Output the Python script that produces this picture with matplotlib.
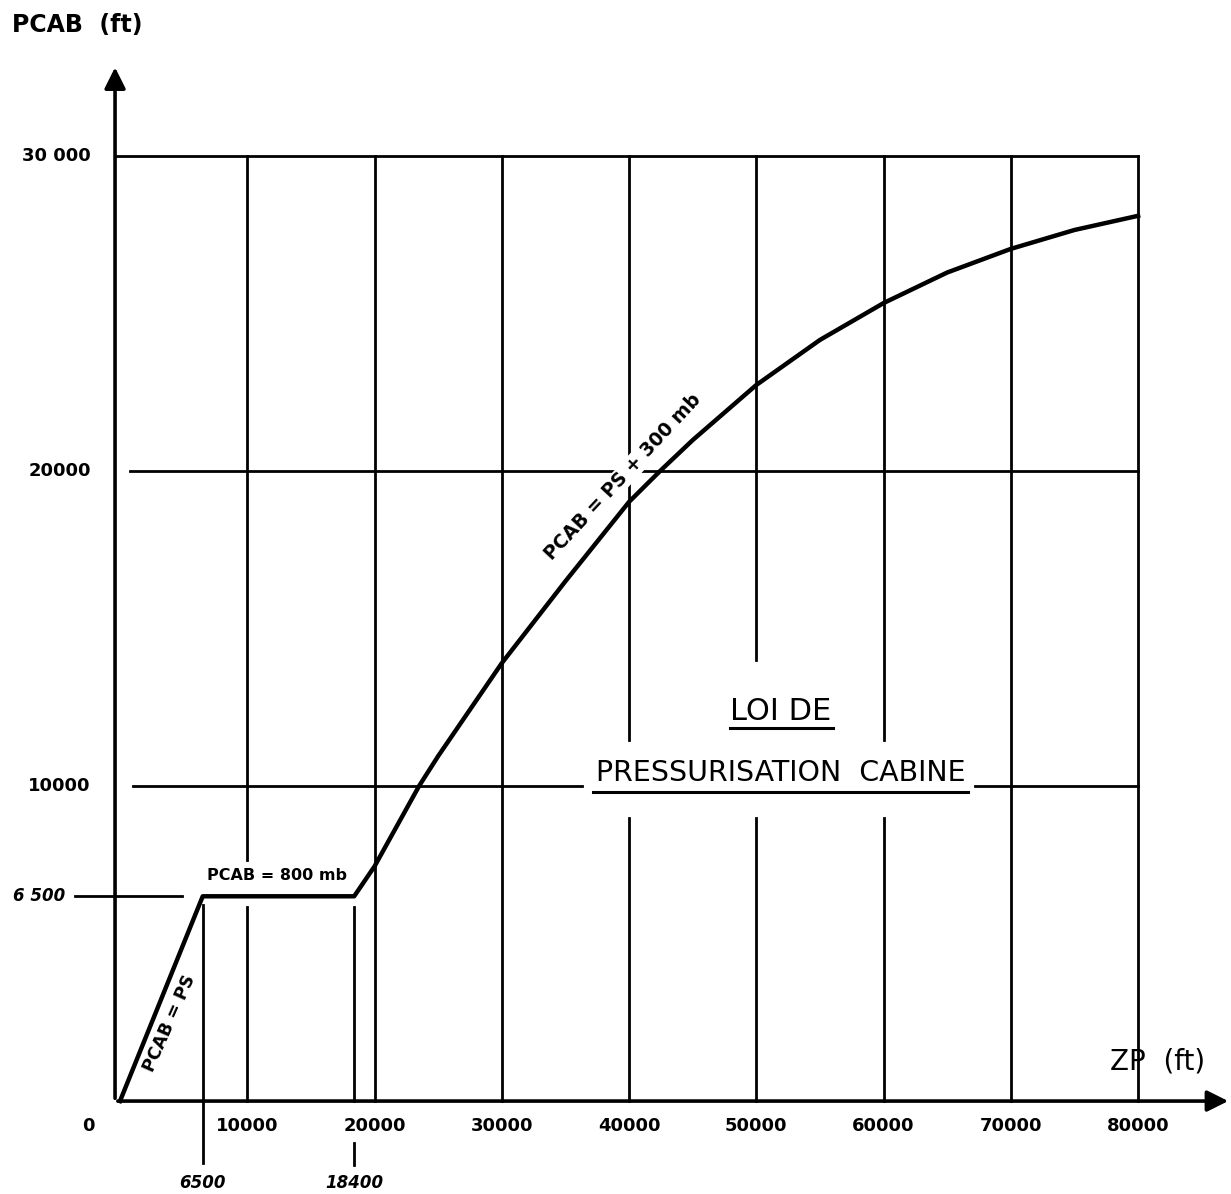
import matplotlib.pyplot as plt

FONT = "DejaVu Sans"

# cabin pressure law: PCAB (ft) vs ZP (ft)
zp = [0, 6500, 18400, 20000, 23500, 25000, 30000, 35000, 40000, 42440,
      45000, 50000, 55000, 60000, 65000, 70000, 75000, 80000]
pcab = [0, 6500, 6500, 7450, 10000, 10950, 13900, 16500, 19020, 20000,
        20980, 22730, 24160, 25330, 26300, 27050, 27650, 28100]

x_ticks = [10000, 20000, 30000, 40000, 50000, 60000, 70000, 80000]
x_labels = ["10000", "20000", "30000", "40000", "50000", "60000", "70000", "80000"]
y_ticks = [10000, 20000, 30000]
y_labels = ["10000", "20000", "30 000"]

fig = plt.figure(figsize=(12.31, 11.94), dpi=100)
ax = fig.add_axes([0, 0, 1, 1])
ax.set_xlim(-9430, 87300)
ax.set_ylim(-2950, 34950)
ax.axis("off")

grid = dict(color="black", lw=2.0, zorder=1)

# horizontal grid lines (with the gaps of the drawing)
ax.plot([-390, 80000], [30000, 30000], **grid)
ax.plot([790, 80000], [20000, 20000], **grid)
ax.plot([1020, 36300], [10000, 10000], **grid)
ax.plot([67200, 80000], [10000, 10000], **grid)
ax.plot([-3540, 4870], [6500, 6500], **grid)

# vertical grid lines
for xv in x_ticks:
    if xv == 10000:
        ax.plot([xv, xv], [30000, 7650], **grid)
        ax.plot([xv, xv], [6160, 0], **grid)
    elif xv in (40000, 60000):
        ax.plot([xv, xv], [30000, 11460], **grid)
        ax.plot([xv, xv], [8980, 0], **grid)
    elif xv == 50000:
        ax.plot([xv, xv], [30000, 14000], **grid)
        ax.plot([xv, xv], [8980, 0], **grid)
    else:
        ax.plot([xv, xv], [30000, 0], **grid)

# reference lines for the break points
ax.plot([6500, 6500], [6220, -1970], **grid)
ax.plot([18400, 18400], [6160, 0], **grid)
ax.plot([18400, 18400], [-1330, -2030], **grid)

# axes with arrows
ax.annotate("", xy=(-390, 32900), xytext=(-390, 0),
            arrowprops=dict(arrowstyle="-|>", lw=2.6, color="black", mutation_scale=32))
ax.annotate("", xy=(87300, 0), xytext=(-390, 0),
            arrowprops=dict(arrowstyle="-|>", lw=2.6, color="black", mutation_scale=32))

# the law
ax.plot(zp, pcab, color="black", lw=3.2, zorder=5, solid_joinstyle="round")

# tick labels
for xv, lab in zip(x_ticks, x_labels):
    ax.text(xv, -780, lab, ha="center", va="center", fontsize=13,
            fontweight="bold", family=FONT)
ax.text(-2450, -780, "0", ha="center", va="center", fontsize=13,
        fontweight="bold", family=FONT)
for yv, lab in zip(y_ticks, y_labels):
    ax.text(-2300, yv, lab, ha="right", va="center", fontsize=13,
            fontweight="bold", family=FONT)
ax.text(-4300, 6500, "6 500", ha="right", va="center", fontsize=12,
        fontweight="bold", style="italic", family=FONT)
ax.text(6500, -2600, "6500", ha="center", va="center", fontsize=12,
        fontweight="bold", style="italic", family=FONT)
ax.text(18400, -2600, "18400", ha="center", va="center", fontsize=12,
        fontweight="bold", style="italic", family=FONT)

# axis titles
ax.text(-8500, 34150, "PCAB  (ft)", ha="left", va="center", fontsize=17,
        fontweight="bold", family=FONT)
ax.text(77800, 1240, "ZP  (ft)", ha="left", va="center", fontsize=20, family=FONT)

# curve annotations
white = dict(facecolor="white", edgecolor="none", pad=1)
ax.text(3900, 2450, "PCAB = PS", rotation=66, ha="center", va="center",
        fontsize=12.5, fontweight="bold", family=FONT, rotation_mode="anchor")
ax.text(12340, 7170, "PCAB = 800 mb", ha="center", va="center",
        fontsize=11.5, fontweight="bold", family=FONT)
ax.text(39500, 19800, "PCAB = PS + 300 mb", rotation=47, ha="center", va="center",
        fontsize=13.5, fontweight="bold", family=FONT, rotation_mode="anchor",
        bbox=white, zorder=3)

# title block
ax.text(51940, 12380, "LOI DE", ha="center", va="center", fontsize=22, family=FONT)
ax.plot([47940, 56030], [11840, 11840], color="black", lw=2.2)
ax.text(51940, 10410, "PRESSURISATION  CABINE", ha="center", va="center",
        fontsize=20.5, family=FONT)
ax.plot([37170, 66640], [9810, 9810], color="black", lw=2.2)

fig.savefig("out.png", dpi=100, facecolor="white")
